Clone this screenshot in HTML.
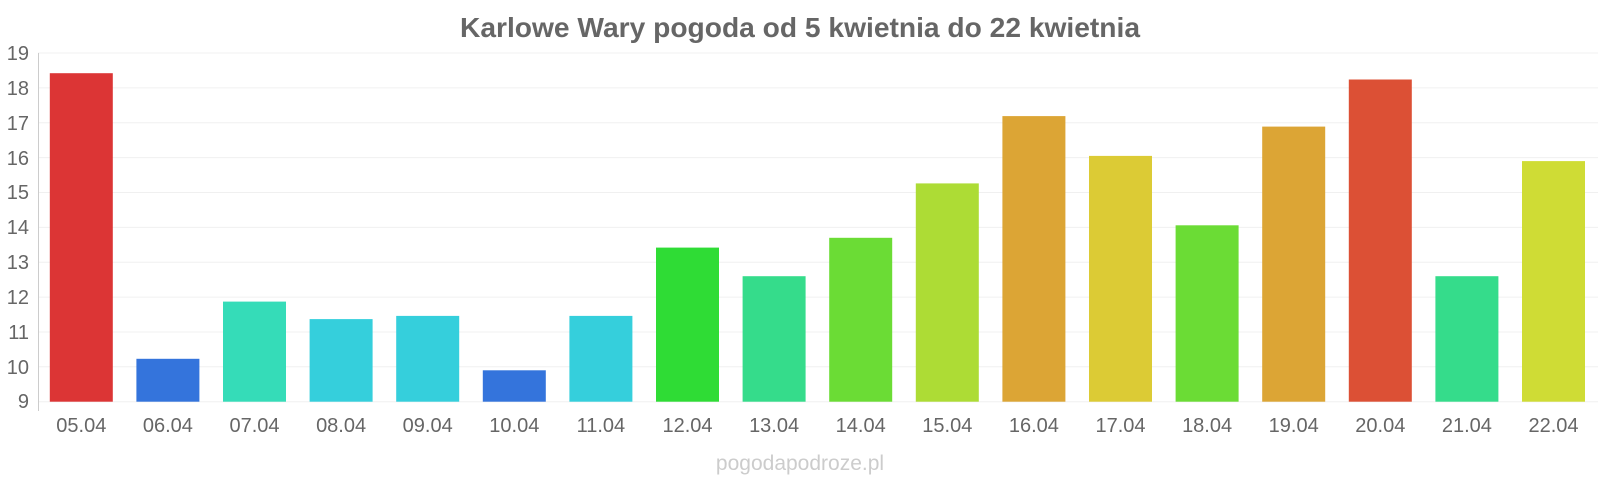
<!DOCTYPE html>
<html><head><meta charset="utf-8"><style>html,body{margin:0;padding:0;background:#fff}svg{display:block}</style></head>
<body>
<svg width="1600" height="480" xmlns="http://www.w3.org/2000/svg" font-family="Liberation Sans, sans-serif">
<rect width="1600" height="480" fill="#fff"/>
<text x="800" y="37" text-anchor="middle" font-size="28" font-weight="bold" fill="#666" textLength="680" lengthAdjust="spacingAndGlyphs">Karlowe Wary pogoda od 5 kwietnia do 22 kwietnia</text>
<g stroke="#f0f0f0" stroke-width="1">
<line x1="38" x2="1598" y1="53" y2="53"/><line x1="38" x2="1598" y1="87.9" y2="87.9"/><line x1="38" x2="1598" y1="122.7" y2="122.7"/><line x1="38" x2="1598" y1="157.6" y2="157.6"/><line x1="38" x2="1598" y1="192.5" y2="192.5"/><line x1="38" x2="1598" y1="227.4" y2="227.4"/><line x1="38" x2="1598" y1="262.2" y2="262.2"/><line x1="38" x2="1598" y1="297.1" y2="297.1"/><line x1="38" x2="1598" y1="332" y2="332"/><line x1="38" x2="1598" y1="366.8" y2="366.8"/><line x1="38" x2="1598" y1="401.7" y2="401.7"/>
</g>
<line x1="38.5" x2="38.5" y1="53" y2="411" stroke="#ccc"/>
<g font-size="20" fill="#666" text-anchor="end">
<text x="29" y="60">19</text><text x="29" y="95">18</text><text x="29" y="130">17</text><text x="29" y="165">16</text><text x="29" y="199">15</text><text x="29" y="234">14</text><text x="29" y="269">13</text><text x="29" y="304">12</text><text x="29" y="339">11</text><text x="29" y="374">10</text><text x="29" y="408">9</text>
</g>
<g>
<rect x="49.8" y="73.2" width="63" height="328.5" fill="#dc3535"/>
<rect x="136.4" y="358.8" width="63" height="42.9" fill="#3474dc"/>
<rect x="223" y="301.6" width="63" height="100.1" fill="#35dcb8"/>
<rect x="309.6" y="319.1" width="63" height="82.6" fill="#35cfdc"/>
<rect x="396.2" y="315.9" width="63" height="85.8" fill="#35cfdc"/>
<rect x="482.8" y="370.3" width="63" height="31.4" fill="#3474dc"/>
<rect x="569.4" y="315.9" width="63" height="85.8" fill="#35cfdc"/>
<rect x="656" y="247.6" width="63" height="154.1" fill="#2fdc35"/>
<rect x="742.6" y="276.2" width="63" height="125.5" fill="#35dc8b"/>
<rect x="829.2" y="237.8" width="63" height="163.9" fill="#6bdc35"/>
<rect x="915.8" y="183.4" width="63" height="218.3" fill="#addc35"/>
<rect x="1002.4" y="116.1" width="63" height="285.6" fill="#dca535"/>
<rect x="1089" y="155.9" width="63" height="245.8" fill="#dccb35"/>
<rect x="1175.6" y="225.3" width="63" height="176.4" fill="#6bdc35"/>
<rect x="1262.2" y="126.6" width="63" height="275.1" fill="#dca535"/>
<rect x="1348.8" y="79.5" width="63" height="322.2" fill="#dc5035"/>
<rect x="1435.4" y="276.2" width="63" height="125.5" fill="#35dc8b"/>
<rect x="1522" y="161.1" width="63" height="240.6" fill="#cfdc35"/>
</g>
<g font-size="20" fill="#666" text-anchor="middle">
<text x="81.3" y="432">05.04</text><text x="167.9" y="432">06.04</text><text x="254.5" y="432">07.04</text><text x="341.1" y="432">08.04</text><text x="427.7" y="432">09.04</text><text x="514.3" y="432">10.04</text><text x="600.9" y="432">11.04</text><text x="687.5" y="432">12.04</text><text x="774.1" y="432">13.04</text><text x="860.7" y="432">14.04</text><text x="947.3" y="432">15.04</text><text x="1033.9" y="432">16.04</text><text x="1120.5" y="432">17.04</text><text x="1207.1" y="432">18.04</text><text x="1293.7" y="432">19.04</text><text x="1380.3" y="432">20.04</text><text x="1466.9" y="432">21.04</text><text x="1553.5" y="432">22.04</text>
</g>
<text x="800" y="470" text-anchor="middle" font-size="21" fill="#ccc">pogodapodroze.pl</text>
</svg>
</body></html>
